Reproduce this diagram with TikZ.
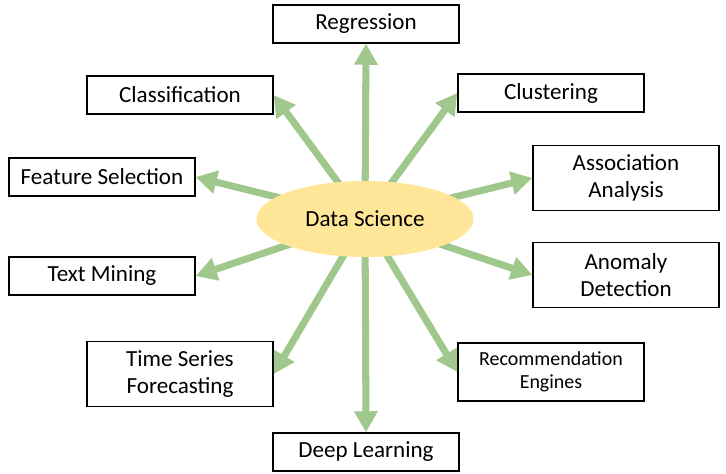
\documentclass[tikz,border=0pt]{standalone}
\usepackage{fontspec}
\setmainfont{Carlito}
\usetikzlibrary{arrows.meta,shapes.geometric}
\definecolor{arrowgreen}{HTML}{A0C88C}
\definecolor{hubyellow}{HTML}{FFE699}

\begin{document}
\begin{tikzpicture}[x=0.025cm,y=-0.025cm,
	box/.style={draw,line width=0.9pt,minimum width=4.65cm,minimum height=0.95cm,align=center,inner sep=0pt,font=\fontsize{16.4}{19}\selectfont},
	tall/.style={box,minimum height=1.625cm},
	arr/.style={arrowgreen,line width=5pt,-{Triangle[width=16pt,length=15pt]}}]
	\useasboundingbox (0,0) rectangle (726,474);
	\coordinate (c) at (365,219);
	% topic boxes
	\node[box] (reg) at (366,24) {Regression};
	\node[box] (cls) at (180,95) {Classification};
	\node[box] (clu) at (551,93) {Clustering};
	\node[box] (fs) at (102,177) {Feature Selection};
	\node[tall] (aso) at (626,178) {Association\\Analysis};
	\node[box] (tm) at (102,276) {Text Mining};
	\node[tall] (ano) at (626,275) {Anomaly\\Detection};
	\node[tall] (tsf) at (180,374) {Time Series\\Forecasting};
	\node[box,minimum height=1.45cm,font=\fontsize{14.2}{16.5}\selectfont] (rec) at (551,372) {Recommendation\\Engines};
	\node[box] (dl) at (366,452) {Deep Learning};
	% arrows, under the hub
	\foreach \t/\a in {reg/south,cls/east,clu/west,fs/east,aso/west,tm/east,ano/west,tsf/east,rec/west,dl/north}
		\draw[arr] (c) -- (\t.\a);
	\node[ellipse,fill=hubyellow,minimum width=5.425cm,minimum height=1.9cm,inner sep=0pt,font=\fontsize{16.4}{19}\selectfont] (ds) at (c) {Data Science};
\end{tikzpicture}
\end{document}
